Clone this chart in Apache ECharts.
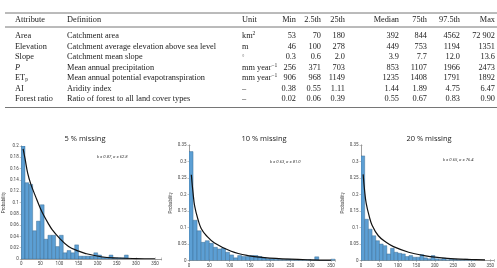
<!DOCTYPE html>
<html>
<head>
<meta charset="utf-8">
<script src="https://cdn.jsdelivr.net/npm/echarts@6/dist/echarts.min.js"></script>
<style>
  html, body { margin: 0; padding: 0; background: #fff; }
  #main { width: 497px; height: 268px; }
</style>
</head>
<body>
<div id="main"></div>
<script>
// ---- table ----
const tableHeader = ['Attribute', 'Definition', 'Unit', 'Min', '2.5th', '25th', 'Median', '75th', '97.5th', 'Max'];
const attrNames = ['Area', 'Elevation', 'Slope', '{it|P}', 'ET{sub|p}', 'AI', 'Forest ratio'];
const attrDefs = [
  'Catchment area',
  'Catchment average elevation above sea level',
  'Catchment mean slope',
  'Mean annual precipitation',
  'Mean annual potential evapotranspiration',
  'Aridity index',
  'Ratio of forest to all land cover types'
];
const attrUnits = ['km{sup|2}', 'm', '{deg|°}', 'mm year{sup|−1}', 'mm year{sup|−1}', '–', '–'];
const rowArea = ['53', '70', '180', '392', '844', '4562', '72 902'];
const rowElev = ['46', '100', '278', '449', '753', '1194', '1351'];
const rowSlope = ['0.3', '0.6', '2.0', '3.9', '7.7', '12.0', '13.6'];
const rowP = ['256', '371', '703', '853', '1107', '1966', '2473'];
const rowEtp = ['906', '968', '1149', '1235', '1408', '1791', '1892'];
const rowAi = ['0.38', '0.55', '1.11', '1.44', '1.89', '4.75', '6.47'];
const rowForest = ['0.02', '0.06', '0.39', '0.55', '0.67', '0.83', '0.90'];
const statRows = [rowArea, rowElev, rowSlope, rowP, rowEtp, rowAi, rowForest];

// ---- histograms (bin width 10) ----
const binWidth = 10;
const hist5 = [0.2, 0.135, 0.132, 0.05, 0.067, 0.096, 0.035, 0.042, 0.042, 0.022, 0.042, 0.011, 0.015, 0.011,
  0.025, 0.005, 0.005, 0.005, 0.005, 0.011, 0.007, 0.003, 0.003, 0.007, 0.002, 0.002, 0.002, 0.007];
const hist10 = [0.33, 0.122, 0.09, 0.055, 0.06, 0.052, 0.04, 0.035, 0.037, 0.025, 0.017, 0.008, 0.015, 0.012,
  0.012, 0.015, 0.015, 0.012, 0.008, 0.005, 0.005, 0.004, 0.003, 0.003, 0.004, 0.003, 0.002, 0.002, 0.002,
  0.002, 0.001, 0.011, 0, 0, 0, 0.004];
const hist20 = [0.317, 0.125, 0.095, 0.075, 0.06, 0.05, 0.045, 0.02, 0.037, 0.025, 0.022, 0.02, 0.012, 0.015,
  0.01, 0.01, 0.018, 0.008, 0.005, 0.015, 0.005, 0.004, 0.007, 0.002, 0.004, 0.004, 0.002, 0.002, 0.004,
  0.001, 0.002];

// fitted curves
const fit5 = [[5, 0.195], [10, 0.178], [17, 0.152], [25, 0.133], [38, 0.110], [50, 0.090], [60, 0.076],
  [70, 0.064], [81, 0.052], [100, 0.037], [124, 0.022], [150, 0.014], [167, 0.010], [209, 0.004],
  [252, 0.0018], [300, 0.0008], [350, 0.0004]];
const fit10 = [[5.7, 0.26], [10, 0.205], [14, 0.165], [22, 0.125], [30, 0.097], [43, 0.075], [63, 0.053],
  [104, 0.028], [145, 0.015], [186, 0.009], [250, 0.004], [300, 0.002], [350, 0.001]];
const fit20 = [[5.8, 0.261], [10, 0.209], [14, 0.174], [22, 0.135], [30, 0.107], [47, 0.075], [68, 0.055],
  [88, 0.042], [129, 0.025], [171, 0.015], [212, 0.009], [253, 0.005], [300, 0.003], [336, 0.002]];

const titles = ['5 % missing', '10 % missing', '20 % missing'];
const fitLabels = ['k = 0.87, σ = 62.8', 'k = 0.63, σ = 81.0', 'k = 0.65, σ = 76.4'];

const chart = echarts.init(document.getElementById('main'));

// table graphics
const serif = '"Liberation Serif", "DejaVu Serif", serif';
const fs = 8.3;
const richStyle = {
  sup: { fontSize: 5.6, verticalAlign: 'top', fontFamily: serif, fill: '#222', padding: [0, 0, 4, 0] },
  sub: { fontSize: 5.6, fontFamily: serif, fill: '#222', padding: [4, 0, 0, 0] },
  it: { fontSize: fs, fontStyle: 'italic', fontFamily: serif, fill: '#222' },
  deg: { fontSize: 6, fontFamily: serif, fill: '#777' }
};
const leftCols = [15, 67, 242];
const rightCols = [296, 321, 345, 399, 427, 460, 495];
const headerY = 19.5;
const rowY0 = 36;
const rowStep = 10.5;
const graphics = [];
function txt(s, x, y, align) {
  graphics.push({
    type: 'text',
    style: {
      text: s, x: x, y: y, textAlign: align, textVerticalAlign: 'middle',
      fontSize: fs, fontFamily: serif, fill: '#222', rich: richStyle
    }
  });
}
function rule(y) {
  graphics.push({
    type: 'line',
    shape: { x1: 5, y1: y, x2: 497, y2: y },
    style: { stroke: '#666', lineWidth: 0.9 }
  });
}
rule(13);
rule(27);
rule(107.5);
tableHeader.forEach((h, i) => {
  if (i < 3) txt(h, leftCols[i], headerY, 'left');
  else txt(h, rightCols[i - 3], headerY, 'right');
});
attrNames.forEach((name, r) => {
  const y = rowY0 + r * rowStep;
  txt(name, leftCols[0], y, 'left');
  txt(attrDefs[r], leftCols[1], y, 'left');
  txt(attrUnits[r], leftCols[2], y, 'left');
  statRows[r].forEach((v, c) => txt(v, rightCols[c], y, 'right'));
});

// fit labels
const fitPos = [[97, 157], [270, 162], [443, 160]];
fitLabels.forEach((s, i) => {
  graphics.push({
    type: 'text',
    style: {
      text: s, x: fitPos[i][0], y: fitPos[i][1], textVerticalAlign: 'middle',
      fontSize: 4.2, fontStyle: 'italic', fontFamily: 'Roboto, sans-serif', fill: '#333'
    }
  });
});

const grids = [
  { left: 18, top: 146, width: 143.5, height: 113, xMax: 367, yMax: 0.2, yStep: 0.02, nameGap: 12 },
  { left: 189, top: 145, width: 146, height: 116.5, xMax: 360, yMax: 0.35, yStep: 0.05, nameGap: 10.5 },
  { left: 361, top: 145, width: 145, height: 116.5, xMax: 360, yMax: 0.35, yStep: 0.05, nameGap: 10.5 }
];
const hists = [hist5, hist10, hist20];
const fits = [fit5, fit10, fit20];
const titleX = [80, 259, 424];

const axisGray = '#8a8a8a';
const xAxes = [], yAxes = [], series = [];
grids.forEach((g, i) => {
  xAxes.push({
    type: 'value', gridIndex: i, min: 0, max: g.xMax, interval: 50,
    axisLine: { lineStyle: { color: axisGray, width: 0.6 } },
    axisTick: { inside: true, length: 1.5, lineStyle: { color: axisGray, width: 0.5 } },
    axisLabel: {
      fontSize: 4.5, color: '#444', margin: 2.5, fontFamily: 'Roboto, sans-serif',
      formatter: v => (v % 50 === 0 ? String(v) : '')
    },
    splitLine: { show: false }
  });
  xAxes.push({
    type: 'value', gridIndex: i, position: 'top', min: 0, max: g.xMax, interval: 50,
    axisLine: { lineStyle: { color: axisGray, width: 0.6 } },
    axisTick: { inside: true, length: 1.5, lineStyle: { color: axisGray, width: 0.5 } },
    axisLabel: { show: false }, splitLine: { show: false }
  });
  yAxes.push({
    type: 'value', gridIndex: i, min: 0, max: g.yMax, interval: g.yStep,
    name: 'Probability', nameLocation: 'middle', nameGap: g.nameGap,
    nameTextStyle: { fontSize: 4.5, color: '#444', fontFamily: 'Roboto, sans-serif' },
    axisLine: { show: true, lineStyle: { color: axisGray, width: 0.6 } },
    axisTick: { show: true, inside: true, length: 1.5, lineStyle: { color: axisGray, width: 0.5 } },
    axisLabel: { fontSize: 4.5, color: '#444', margin: 2.5, fontFamily: 'Roboto, sans-serif' },
    splitLine: { show: false }
  });
  yAxes.push({
    type: 'value', gridIndex: i, position: 'right', min: 0, max: g.yMax, interval: g.yStep,
    axisLine: { show: true, lineStyle: { color: axisGray, width: 0.6 } },
    axisTick: { show: true, inside: true, length: 1.5, lineStyle: { color: axisGray, width: 0.5 } },
    axisLabel: { show: false }, splitLine: { show: false }
  });

  series.push({
    type: 'custom',
    xAxisIndex: i * 2, yAxisIndex: i * 2,
    clip: true,
    data: hists[i].map((p, k) => [k * binWidth, (k + 1) * binWidth, p]),
    renderItem: function (params, api) {
      const tl = api.coord([api.value(0), api.value(2)]);
      const br = api.coord([api.value(1), 0]);
      return {
        type: 'rect',
        shape: { x: tl[0], y: tl[1], width: br[0] - tl[0], height: br[1] - tl[1] },
        style: { fill: '#5c9fd4', stroke: '#2f5f86', lineWidth: 0.4 }
      };
    },
    silent: true
  });
  series.push({
    type: 'line',
    xAxisIndex: i * 2, yAxisIndex: i * 2,
    data: fits[i],
    smooth: 0.4,
    showSymbol: false,
    lineStyle: { color: '#111', width: 1.2 },
    silent: true
  });
});

chart.setOption({
  animation: false,
  backgroundColor: '#fff',
  title: titles.map((t, i) => ({
    text: t, left: titleX[i], top: 130, textAlign: 'center',
    textStyle: { fontSize: 7.5, fontWeight: 'normal', color: '#222', fontFamily: '"Open Sans", sans-serif' }
  })),
  grid: grids.map(g => ({ left: g.left, top: g.top, width: g.width, height: g.height })),
  xAxis: xAxes,
  yAxis: yAxes,
  series: series,
  graphic: graphics
});
</script>
</body>
</html>
